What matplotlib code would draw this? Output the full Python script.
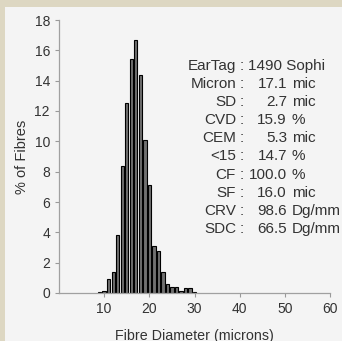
import matplotlib
matplotlib.use("Agg")
import matplotlib.pyplot as plt
import matplotlib.patches as mpatches

plt.rcParams['font.family'] = ['Liberation Sans', 'DejaVu Sans']

# fibre diameter histogram (microns, % of fibres)
diameters = [9, 10, 11, 12, 13, 14, 15, 16, 17, 18, 19, 20,
             21, 22, 23, 24, 25, 26, 27, 28, 29, 30]
percents = [0.05, 0.15, 0.9, 1.4, 3.8, 8.4, 12.5, 15.4, 16.7, 14.4, 10.1, 7.1,
            3.1, 2.8, 1.4, 0.6, 0.4, 0.4, 0.1, 0.3, 0.3, 0.05]

x_ticks = [10, 20, 30, 40, 50, 60]
y_ticks = [0, 2, 4, 6, 8, 10, 12, 14, 16, 18]

# summary statistics: label, number, unit
stat_labels = ["EarTag", "Micron", "SD", "CVD", "CEM", "<15", "CF", "SF", "CRV", "SDC"]
stat_numbers = ["1490 Sophi", "17.1", "2.7", "15.9", "5.3", "14.7", "100.0", "16.0", "98.6", "66.5"]
stat_units = ["", "mic", "mic", "%", "mic", "%", "%", "mic", "Dg/mm", "Dg/mm"]

W, H = 342, 341
fig = plt.figure(figsize=(W / 100, H / 100), dpi=100)
fig.patch.set_facecolor('#ddd7c2')
# light panel behind the chart
fig.patches.append(mpatches.Rectangle((5 / W, 0), 1, 1 - 7 / H, transform=fig.transFigure,
                                      facecolor='#f4f4f4', edgecolor='none', zorder=-5))

ax = fig.add_axes([59 / W, (H - 293) / H, (330 - 59) / W, (293 - 20) / H])
ax.set_zorder(2)
ax.set_facecolor('none')
ax.bar(diameters, percents, width=0.75, color='#707070', edgecolor='black', linewidth=0.8)

ax.set_xlim(0, 60)
ax.set_ylim(0, 18)
ax.set_xticks(x_ticks)
ax.set_yticks(y_ticks)
ax.tick_params(labelsize=10, colors='#999999', labelcolor='#333333', length=3, width=0.8)
for s in ['top', 'right']:
    ax.spines[s].set_visible(False)
for s in ['left', 'bottom']:
    ax.spines[s].set_color('#a0a0a0')
    ax.spines[s].set_linewidth(0.9)

ax.set_xlabel("Fibre Diameter (microns)", fontsize=10.3, color='#333333', labelpad=9)
ax.set_ylabel("% of Fibres", fontsize=10.5, color='#333333', labelpad=4)

def px(x, y):
    return x / W, 1 - y / H

row0, step = 66, 18.1
for i, (lab, num, unit) in enumerate(zip(stat_labels, stat_numbers, stat_units)):
    y = row0 + i * step
    fig.text(*px(236, y), lab, ha='right', va='center', fontsize=11, color='#333333')
    fig.text(*px(242, y), ":", ha='center', va='center', fontsize=11, color='#333333')
    if unit == "":
        fig.text(*px(248, y), num, ha='left', va='center', fontsize=11, color='#333333')
    else:
        fig.text(*px(287, y), num, ha='right', va='center', fontsize=11, color='#333333')
        fig.text(*px(292, y), unit, ha='left', va='center', fontsize=11, color='#333333')

fig.savefig("out.png", dpi=100, facecolor=fig.get_facecolor())
